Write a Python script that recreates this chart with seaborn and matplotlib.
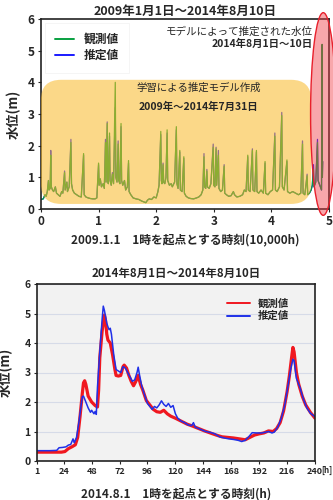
import matplotlib
matplotlib.use("Agg")
import matplotlib.pyplot as plt
from matplotlib.patches import FancyBboxPatch, Ellipse
import seaborn as sns

# 上段: 2009.1.1 から 2014.8.10 (単位 10,000h)
top_x = [0.00, 0.04, 0.07, 0.09, 0.11, 0.13, 0.14, 0.16, 0.17, 0.18, 0.20, 0.22, 0.25, 0.27, 0.30,
         0.33, 0.36, 0.38, 0.41, 0.42, 0.45, 0.46, 0.49, 0.52, 0.53, 0.55, 0.58, 0.62, 0.66, 0.70,
         0.74, 0.75, 0.78, 0.82, 0.86, 0.90, 0.94, 0.97, 1.00, 1.01, 1.03, 1.05, 1.08, 1.10, 1.12,
         1.13, 1.15, 1.16, 1.17, 1.19, 1.20, 1.22, 1.24, 1.26, 1.29, 1.30, 1.32, 1.34, 1.35, 1.37,
         1.39, 1.40, 1.42, 1.45, 1.47, 1.50, 1.52, 1.53, 1.56, 1.60, 1.65, 1.70, 1.75, 1.79, 1.82,
         1.85, 1.88, 1.92, 1.96, 2.00, 2.03, 2.05, 2.08, 2.09, 2.10, 2.12, 2.13, 2.15, 2.17, 2.19,
         2.20, 2.23, 2.26, 2.28, 2.32, 2.35, 2.36, 2.38, 2.41, 2.42, 2.45, 2.48, 2.49, 2.52, 2.56,
         2.60, 2.65, 2.70, 2.74, 2.78, 2.81, 2.83, 2.84, 2.86, 2.88, 2.89, 2.92, 2.95, 2.99, 3.00,
         3.02, 3.04, 3.05, 3.08, 3.09, 3.12, 3.15, 3.18, 3.19, 3.22, 3.26, 3.30, 3.34, 3.36, 3.40,
         3.45, 3.50, 3.53, 3.56, 3.59, 3.60, 3.63, 3.67, 3.68, 3.71, 3.74, 3.75, 3.78, 3.82, 3.86,
         3.89, 3.90, 3.94, 3.98, 4.02, 4.06, 4.07, 4.10, 4.14, 4.18, 4.19, 4.22, 4.27, 4.28, 4.32,
         4.37, 4.42, 4.47, 4.51, 4.54, 4.55, 4.58, 4.62, 4.63, 4.66, 4.69, 4.71, 4.73, 4.74, 4.77,
         4.80, 4.81, 4.84, 4.87, 4.88, 4.885, 4.89]
top_obs = [0.30, 0.32, 0.45, 0.40, 0.55, 0.90, 0.60, 0.65, 1.70, 0.70, 0.60, 0.55, 0.70, 0.50, 0.45,
           0.40, 0.55, 0.50, 1.15, 0.60, 0.85, 0.55, 0.70, 2.10, 0.80, 0.60, 0.50, 0.45, 0.40, 0.38,
           1.75, 0.45, 0.38, 0.35, 0.33, 0.32, 0.32, 0.35, 1.45, 0.75, 0.95, 0.70, 0.80, 0.65, 2.10,
           0.85, 2.70, 0.90, 0.80, 2.40, 0.90, 0.75, 1.10, 0.80, 4.00, 1.00, 0.85, 2.05, 0.90, 0.80,
           2.70, 0.90, 0.75, 0.90, 0.60, 0.70, 1.53, 0.55, 0.45, 0.35, 0.32, 0.30, 0.25, 0.22, 0.20,
           0.28, 0.32, 0.30, 0.38, 0.35, 0.55, 0.75, 2.45, 0.90, 0.80, 1.40, 0.85, 0.80, 1.00, 2.50,
           0.90, 0.75, 0.80, 0.70, 0.85, 2.60, 0.80, 0.65, 1.85, 0.60, 0.55, 1.65, 0.50, 0.40, 0.35,
           0.33, 0.32, 0.35, 0.38, 0.45, 0.60, 1.65, 0.70, 0.65, 1.20, 0.70, 0.65, 0.80, 1.95, 0.75,
           0.70, 1.90, 0.75, 1.70, 0.65, 0.55, 0.60, 1.35, 0.50, 0.45, 0.40, 0.42, 0.55, 0.45, 0.38,
           0.40, 0.45, 0.60, 0.55, 1.70, 0.60, 0.55, 1.85, 0.60, 0.55, 1.85, 0.55, 0.50, 0.60, 0.50,
           1.50, 0.50, 0.45, 0.55, 0.60, 2.30, 0.60, 0.55, 0.70, 2.95, 0.70, 0.60, 1.55, 0.55, 0.50,
           0.55, 0.50, 0.45, 0.50, 2.05, 0.50, 0.45, 1.05, 0.45, 0.50, 0.60, 0.75, 1.25, 0.70, 0.85,
           2.10, 0.90, 0.75, 0.60, 5.20, 1.00, 1.50]
top_est = [0.30, 0.32, 0.45, 0.40, 0.55, 0.90, 0.60, 0.65, 1.85, 0.70, 0.60, 0.55, 0.70, 0.50, 0.45,
           0.40, 0.55, 0.50, 1.20, 0.60, 0.85, 0.55, 0.70, 2.20, 0.80, 0.60, 0.50, 0.45, 0.40, 0.38,
           1.70, 0.45, 0.38, 0.35, 0.33, 0.32, 0.32, 0.35, 1.40, 0.75, 0.95, 0.70, 0.80, 0.65, 2.20,
           0.85, 2.75, 0.90, 0.80, 2.30, 0.90, 0.75, 1.15, 0.80, 3.20, 1.00, 0.85, 2.15, 0.90, 0.80,
           2.60, 0.90, 0.75, 0.90, 0.60, 0.70, 1.45, 0.55, 0.45, 0.35, 0.32, 0.30, 0.25, 0.22, 0.20,
           0.28, 0.32, 0.30, 0.38, 0.35, 0.55, 0.75, 2.35, 0.90, 0.80, 1.45, 0.85, 0.80, 1.00, 2.40,
           0.90, 0.75, 0.80, 0.70, 0.85, 2.50, 0.80, 0.65, 1.80, 0.60, 0.55, 1.60, 0.50, 0.40, 0.35,
           0.33, 0.32, 0.35, 0.38, 0.45, 0.60, 1.75, 0.70, 0.65, 1.25, 0.70, 0.65, 0.80, 2.05, 0.75,
           0.70, 1.95, 0.75, 1.85, 0.65, 0.55, 0.60, 1.40, 0.50, 0.45, 0.40, 0.42, 0.55, 0.45, 0.38,
           0.40, 0.45, 0.60, 0.55, 1.65, 0.60, 0.55, 1.90, 0.60, 0.55, 1.80, 0.55, 0.50, 0.60, 0.50,
           1.45, 0.50, 0.45, 0.55, 0.60, 2.40, 0.60, 0.55, 0.70, 3.05, 0.70, 0.60, 1.50, 0.55, 0.50,
           0.55, 0.50, 0.45, 0.50, 2.15, 0.50, 0.45, 1.10, 0.45, 0.50, 0.60, 0.75, 1.40, 0.70, 0.85,
           2.20, 0.90, 0.75, 0.60, 3.80, 1.00, 1.50]

# 下段: 2014.8.1 1時からの時刻 (h)
obs_h = [1, 6, 12, 18, 22, 25, 28, 31, 34, 36, 38, 40, 41, 42, 43, 45, 48, 51, 53, 54, 55, 57, 59,
         60, 61, 62, 64, 66, 68, 69, 71, 73, 75, 76, 78, 80, 82, 84, 86, 88, 90, 92, 95, 98, 101,
         104, 107, 110, 113, 116, 120, 125, 130, 135, 140, 145, 150, 155, 160, 165, 170, 175, 180,
         184, 188, 192, 196, 200, 204, 207, 210, 213, 216, 218, 220, 221, 222, 224, 226, 229, 232,
         236, 240]
obs_v = [0.30, 0.30, 0.30, 0.30, 0.30, 0.32, 0.42, 0.48, 0.55, 0.80, 1.50, 2.30, 2.65, 2.72, 2.60,
         2.20, 2.00, 1.88, 1.83, 2.40, 3.50, 4.40, 4.95, 4.75, 4.30, 4.10, 4.00, 3.60, 3.10, 2.90,
         2.88, 2.90, 3.20, 3.25, 3.15, 2.90, 2.70, 2.55, 2.70, 2.90, 2.60, 2.40, 2.05, 1.90, 1.75,
         1.67, 1.65, 1.72, 1.60, 1.52, 1.45, 1.35, 1.25, 1.18, 1.10, 1.02, 0.95, 0.88, 0.82, 0.80,
         0.78, 0.75, 0.72, 0.80, 0.88, 0.92, 0.95, 1.02, 1.00, 1.10, 1.30, 1.70, 2.35, 2.90, 3.55,
         3.85, 3.70, 3.00, 2.60, 2.20, 1.90, 1.65, 1.45]
est_h = [1, 12, 18, 20, 23, 26, 28, 30, 32, 33, 35, 37, 39, 40, 41, 43, 45, 47, 48, 50, 51, 52, 53,
         55, 57, 58, 59, 61, 62, 63, 64, 65, 67, 69, 71, 73, 75, 77, 79, 81, 83, 85, 87, 88, 89, 91,
         93, 96, 98, 100, 102, 104, 106, 108, 110, 112, 114, 116, 118, 120, 122, 125, 128, 131, 134,
         135.5, 137, 140, 143, 146, 150, 154, 158, 162, 166, 170, 174, 177, 180, 183, 186, 190, 194,
         198, 200, 203, 205, 208, 211, 214, 217, 219, 221, 222, 224, 227, 230, 233, 236, 240]
est_v = [0.35, 0.35, 0.36, 0.45, 0.46, 0.48, 0.54, 0.56, 0.75, 0.62, 0.80, 1.30, 1.90, 2.18, 2.20,
         2.00, 1.80, 1.65, 1.72, 1.60, 1.68, 1.58, 2.50, 3.70, 4.80, 5.25, 5.10, 4.67, 4.55, 4.45,
         4.50, 4.30, 3.60, 3.10, 3.05, 3.00, 3.20, 3.15, 3.00, 2.85, 2.70, 2.75, 3.00, 3.18, 2.95,
         2.55, 2.30, 1.95, 1.85, 1.75, 1.85, 1.80, 1.90, 2.04, 1.92, 1.85, 1.95, 1.82, 1.88, 1.60,
         1.45, 1.35, 1.30, 1.22, 1.20, 1.30, 1.15, 1.10, 1.05, 1.00, 0.97, 0.92, 0.82, 0.78, 0.75,
         0.73, 0.70, 0.66, 0.70, 0.82, 0.96, 0.95, 0.95, 0.98, 1.00, 0.95, 0.98, 1.15, 1.45, 1.90,
         2.60, 3.10, 3.45, 3.40, 2.80, 2.50, 2.10, 1.80, 1.62, 1.50]
hour_ticks = [1, 24, 48, 72, 96, 120, 144, 168, 192, 216, 240]

sns.set_theme(style="white")
plt.rcParams['font.family'] = ['Noto Sans CJK JP', 'DejaVu Sans']
plt.rcParams['font.weight'] = 'bold'

fig = plt.figure(figsize=(3.33, 5.0), dpi=100)
ax1 = fig.add_axes([0.123, 0.582, 0.865, 0.38])
ax2 = fig.add_axes([0.111, 0.078, 0.835, 0.354])

# --- 上段 ---
sns.lineplot(x=top_x, y=top_est, ax=ax1, color='#1a1aff', linewidth=0.9, sort=False,
             estimator=None, label='推定値')
sns.lineplot(x=top_x, y=top_obs, ax=ax1, color='#08a040', linewidth=0.9, sort=False,
             estimator=None, label='観測値')
ax1.set_xlim(0, 5)
ax1.set_ylim(0, 6)
ax1.set_xticks([0, 1, 2, 3, 4, 5])
ax1.set_yticks([0, 1, 2, 3, 4, 5, 6])

box = FancyBboxPatch((0.0, 0.16), 4.69, 3.92, boxstyle='round,pad=0,rounding_size=0.35',
                     mutation_aspect=1.8, facecolor='#f9b826', alpha=0.55, edgecolor='none',
                     zorder=3)
ax1.add_patch(box)
ell = Ellipse((4.9, 3.0), 0.44, 6.4, facecolor='#f03c46', alpha=0.45, edgecolor='none',
              zorder=4, clip_on=False)
ax1.add_patch(ell)
ell_edge = Ellipse((4.9, 3.0), 0.44, 6.4, facecolor='none', edgecolor='#e8202c',
                   linewidth=1.0, zorder=4, clip_on=False)
ax1.add_patch(ell_edge)

ax1.text(2.73, 3.83, '学習による推定モデル作成', ha='center', va='center', fontsize=7.5,
         fontweight='normal', zorder=5)
ax1.text(2.73, 3.23, '2009年～2014年7月31日', ha='center', va='center', fontsize=7.5,
         fontweight='bold', zorder=5)
ax1.text(4.72, 5.6, 'モデルによって推定された水位', ha='right', va='center', fontsize=7.6,
         fontweight='normal', zorder=5)
ax1.text(4.72, 5.2, '2014年8月1日～10日', ha='right', va='center', fontsize=7.5,
         fontweight='bold', zorder=5)

h, l = ax1.get_legend_handles_labels()
leg1 = ax1.legend(h[::-1], l[::-1], loc='upper left', fontsize=8.5, frameon=True,
                  fancybox=False, handlelength=1.6, borderpad=0.9, labelspacing=0.25,
                  borderaxespad=0.3, bbox_to_anchor=(0.0, 1.0))
leg1.get_frame().set_edgecolor('#eeeeee')
leg1.get_frame().set_linewidth(0.5)
leg1.set_zorder(6)
for line in leg1.get_lines():
    line.set_linewidth(1.4)

ax1.set_title('2009年1月1日～2014年8月10日', fontsize=9, fontweight='bold', pad=3)
ax1.set_xlabel('2009.1.1　1時を起点とする時刻(10,000h)', fontsize=8.5, fontweight='bold',
               labelpad=4)
ax1.set_ylabel('水位(m)', fontsize=9.5, fontweight='bold', labelpad=5)

# --- 下段 ---
ax2.set_facecolor('#f2f2f2')
ax2.grid(axis='y', color='#d6dbe8', linewidth=0.8)
ax2.set_axisbelow(True)
sns.lineplot(x=obs_h, y=obs_v, ax=ax2, color='#f01820', linewidth=2.3, sort=False,
             estimator=None, label='観測値')
sns.lineplot(x=est_h, y=est_v, ax=ax2, color='#2030e8', linewidth=1.1, sort=False,
             estimator=None, label='推定値')
ax2.set_xlim(1, 240)
ax2.set_ylim(0, 6)
ax2.set_xticks(hour_ticks)
ax2.set_yticks([0, 1, 2, 3, 4, 5, 6])
leg2 = ax2.legend(loc='upper right', fontsize=7.5, frameon=False, handlelength=2.2,
                  labelspacing=0.2, bbox_to_anchor=(0.94, 0.97))
for line in leg2.get_lines():
    line.set_linewidth(1.4)
ax2.set_title('2014年8月1日～2014年8月10日', fontsize=8.3, fontweight='bold', pad=5)
ax2.set_xlabel('2014.8.1　1時を起点とする時刻(h)', fontsize=8.5, fontweight='bold', labelpad=8)
ax2.set_ylabel('水位(m)', fontsize=9.5, fontweight='bold', labelpad=8)
fig.text(0.966, 0.06, '[h]', fontsize=5.8, fontweight='bold', ha='left', va='center')

for ax in (ax1, ax2):
    for s in ax.spines.values():
        s.set_color('#222222')
        s.set_linewidth(1.2)
    ax.tick_params(axis='both', which='major', length=2.5, width=0.8, direction='out',
                   bottom=True, left=True, pad=2)
    for t in ax.get_xticklabels() + ax.get_yticklabels():
        t.set_fontweight('bold')
ax1.tick_params(labelsize=8.5)
ax2.tick_params(axis='x', labelsize=6.5)
ax2.tick_params(axis='y', labelsize=7.5)

fig.savefig('out.png', dpi=100)
